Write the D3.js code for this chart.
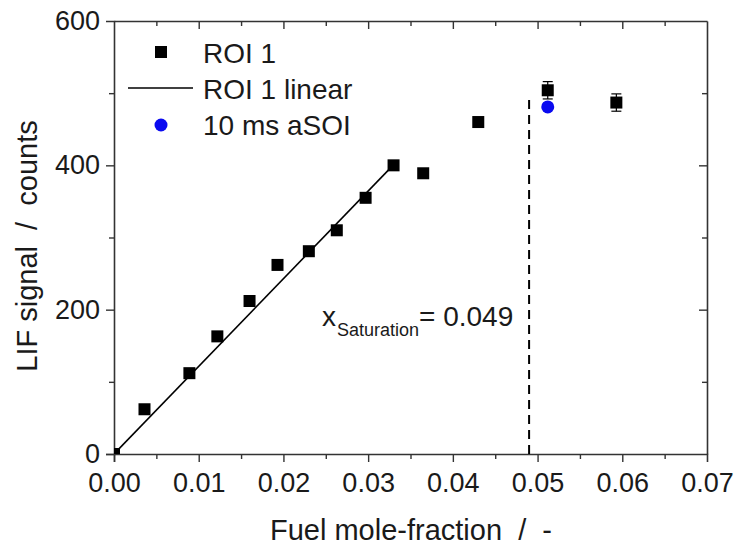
<!DOCTYPE html>
<html>
<head>
<meta charset="utf-8">
<script src="https://cdn.jsdelivr.net/npm/d3@7"></script>
<style>
  body { margin: 0; background: #fff; }
  text { font-family: "Liberation Sans", Arial, sans-serif; fill: #1a1a1a; }
</style>
</head>
<body>
<script>
// ROI 1 measurements
const roiX = [0.0000, 0.0036, 0.0089, 0.0122, 0.0160, 0.0193, 0.0230, 0.0263, 0.0297, 0.0330, 0.0365, 0.0430, 0.0512, 0.0593];
const roiY = [0, 62, 112, 163, 212, 262, 281, 310, 355, 400, 389, 460, 504, 487];
const roiErr = [0, 0, 0, 0, 0, 0, 0, 0, 0, 0, 4, 5, 12, 12];

// 10 ms aSOI point
const asoiX = [0.0512];
const asoiY = [481];

// linear fit (through origin)
const fitX = [0, 0.0331];
const fitY = [0, 402];

// saturation marker
const satX = 0.049;
const satTop = 495;

const xTicks = [0, 0.01, 0.02, 0.03, 0.04, 0.05, 0.06, 0.07];
const yTicks = [0, 200, 400, 600];
const legendLabels = ["ROI 1", "ROI 1 linear", "10 ms aSOI"];

const width = 734, height = 547;
const margin = { top: 21, right: 27, bottom: 93, left: 114 };
const W = width - margin.left - margin.right;
const H = height - margin.top - margin.bottom;

const svg = d3.select("body").append("svg")
  .attr("width", width)
  .attr("height", height);

const x = d3.scaleLinear().domain([0, 0.07]).range([0, W]);
const y = d3.scaleLinear().domain([0, 600]).range([H, 0]);

const g = svg.append("g").attr("transform", `translate(${margin.left},${margin.top})`);

svg.append("defs").append("clipPath").attr("id", "plotclip")
  .append("rect").attr("width", W).attr("height", H);

// axes: bottom/left ticks outward, top/right inward
const minorX = d3.range(0.005, 0.07, 0.01);
const minorY = [100, 300, 500];

const bottomAxis = g.append("g").attr("transform", `translate(0,${H})`)
  .call(d3.axisBottom(x).tickValues(xTicks).tickFormat(d3.format(".2f")).tickSize(8).tickPadding(11));
bottomAxis.selectAll(".tick").filter(d => d === 0.07).select("line").remove();
g.append("g").attr("transform", `translate(0,${H})`)
  .call(d3.axisBottom(x).tickValues(minorX).tickFormat("").tickSize(5))
  .select(".domain").remove();

const leftAxis = g.append("g")
  .call(d3.axisLeft(y).tickValues(yTicks).tickSize(8).tickPadding(6));
leftAxis.selectAll(".tick").filter(d => d === 600).select("line").remove();
g.append("g")
  .call(d3.axisLeft(y).tickValues(minorY).tickFormat("").tickSize(5))
  .select(".domain").remove();

g.append("g")
  .call(d3.axisBottom(x).tickValues(xTicks.slice(1, -1)).tickFormat("").tickSize(8).tickSizeOuter(0));
g.append("g").call(d3.axisBottom(x).tickValues(minorX).tickFormat("").tickSize(5)).select(".domain").remove();

g.append("g").attr("transform", `translate(${W},0)`)
  .call(d3.axisLeft(y).tickValues(yTicks.slice(1, -1)).tickFormat("").tickSize(8).tickSizeOuter(0));
g.append("g").attr("transform", `translate(${W},0)`)
  .call(d3.axisLeft(y).tickValues(minorY).tickFormat("").tickSize(5)).select(".domain").remove();

g.selectAll(".domain").attr("stroke", "#333").attr("stroke-width", 1.6);
g.selectAll(".tick line").attr("stroke", "#333").attr("stroke-width", 1.4);
g.selectAll(".tick text").attr("font-size", 27).attr("fill", "#1a1a1a")
  .attr("font-family", "Liberation Sans, Arial, sans-serif");

const plot = g.append("g").attr("clip-path", "url(#plotclip)");

// linear fit line
plot.append("line")
  .attr("x1", x(fitX[0])).attr("y1", y(fitY[0]))
  .attr("x2", x(fitX[1])).attr("y2", y(fitY[1]))
  .attr("stroke", "#000").attr("stroke-width", 1.6);

// dashed saturation line
plot.append("line")
  .attr("x1", x(satX)).attr("x2", x(satX))
  .attr("y1", y(0)).attr("y2", y(satTop))
  .attr("stroke", "#000").attr("stroke-width", 2)
  .attr("stroke-dasharray", "9,6");

// error bars
const roi = roiX.map((v, i) => ({ x: v, y: roiY[i], e: roiErr[i] }));
const eb = plot.selectAll(".err").data(roi.filter(d => d.e > 0)).enter().append("g");
eb.append("line")
  .attr("x1", d => x(d.x)).attr("x2", d => x(d.x))
  .attr("y1", d => y(d.y - d.e)).attr("y2", d => y(d.y + d.e))
  .attr("stroke", "#000").attr("stroke-width", 1.2);
[-1, 1].forEach(s => {
  eb.append("line")
    .attr("x1", d => x(d.x) - 5).attr("x2", d => x(d.x) + 5)
    .attr("y1", d => y(d.y + s * d.e)).attr("y2", d => y(d.y + s * d.e))
    .attr("stroke", "#000").attr("stroke-width", 1.2);
});

// square markers
const sq = 12;
plot.selectAll(".pt").data(roi).enter().append("rect")
  .attr("x", d => x(d.x) - sq / 2).attr("y", d => y(d.y) - sq / 2)
  .attr("width", sq).attr("height", sq).attr("fill", "#000");

// blue point
plot.selectAll(".asoi").data(asoiX.map((v, i) => ({ x: v, y: asoiY[i] }))).enter().append("circle")
  .attr("cx", d => x(d.x)).attr("cy", d => y(d.y)).attr("r", 6.5).attr("fill", "#0a0af0");

// annotation
const ann = svg.append("text")
  .attr("x", 322).attr("y", 326)
  .attr("font-size", 28);
ann.append("tspan").text("x");
ann.append("tspan").attr("font-size", 18).attr("dx", 1).attr("dy", 10).text("Saturation");
ann.append("tspan").attr("dy", -10).text("= 0.049");

// legend
const lg = svg.append("g");
lg.append("rect").attr("x", 161 - sq / 2).attr("y", 52 - sq / 2)
  .attr("width", sq).attr("height", sq).attr("fill", "#000");
lg.append("line").attr("x1", 128).attr("x2", 193)
  .attr("y1", 88).attr("y2", 88)
  .attr("stroke", "#000").attr("stroke-width", 1.6);
lg.append("circle").attr("cx", 161).attr("cy", 125).attr("r", 6.5).attr("fill", "#0a0af0");
lg.selectAll(".lt").data(legendLabels).enter().append("text")
  .attr("x", 203)
  .attr("y", (d, i) => 63 + i * 36)
  .attr("font-size", 28)
  .text(d => d);

// axis titles
svg.append("text")
  .attr("x", 411).attr("y", 540)
  .attr("text-anchor", "middle").attr("font-size", 29)
  .attr("xml:space", "preserve")
  .text("Fuel mole-fraction  /  -");

svg.append("text")
  .attr("transform", `translate(37,246) rotate(-90)`)
  .attr("text-anchor", "middle").attr("font-size", 29)
  .attr("xml:space", "preserve")
  .text("LIF signal  /  counts");
</script>
</body>
</html>
